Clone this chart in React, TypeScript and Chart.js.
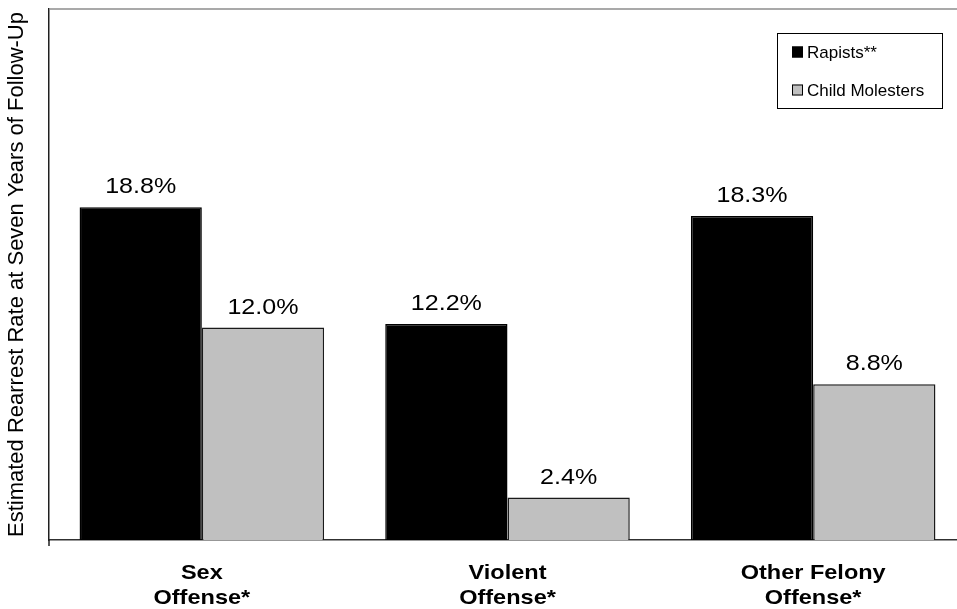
import React, { useEffect, useRef } from "react";
import { Chart, registerables } from "chart.js";

Chart.register(...registerables);

const categories: string[][] = [
  ["Sex", "Offense*"],
  ["Violent", "Offense*"],
  ["Other Felony", "Offense*"],
];
const rapists: number[] = [18.8, 12.2, 18.3];
const childMolesters: number[] = [12.0, 2.4, 8.8];
const seriesNames: string[] = ["Rapists**", "Child Molesters"];
const seriesColors: string[] = ["#000000", "#C0C0C0"];
const yTitle = "Estimated Rearrest Rate at Seven Years of Follow-Up";
const FONT = "'Liberation Sans', Arial, Helvetica, sans-serif";

function stretchedText(ctx: CanvasRenderingContext2D, text: string, x: number, y: number, sx: number) {
  ctx.save();
  ctx.translate(x, y);
  ctx.scale(sx, 1);
  ctx.fillText(text, 0, 0);
  ctx.restore();
}

const decorPlugin = {
  id: "decor",
  afterDatasetsDraw(chart: any) {
    const ctx = chart.ctx as CanvasRenderingContext2D;
    const area = chart.chartArea;
    ctx.save();
    // top frame line
    ctx.strokeStyle = "#8c8c8c";
    ctx.lineWidth = 1.5;
    ctx.beginPath();
    ctx.moveTo(area.left, area.top);
    ctx.lineTo(chart.width, area.top);
    ctx.stroke();
    // small tick below y axis
    ctx.strokeStyle = "#202020";
    ctx.beginPath();
    ctx.moveTo(area.left, area.bottom);
    ctx.lineTo(area.left, area.bottom + 6);
    ctx.stroke();
    // value labels
    ctx.fillStyle = "#000";
    ctx.font = `22px ${FONT}`;
    ctx.textAlign = "center";
    ctx.textBaseline = "alphabetic";
    chart.data.datasets.forEach((ds: any, di: number) => {
      const meta = chart.getDatasetMeta(di);
      meta.data.forEach((bar: any, i: number) => {
        stretchedText(ctx, ds.data[i].toFixed(1) + "%", bar.x, bar.y - 14, 1.14);
      });
    });
    // category labels
    const xs = chart.scales.x;
    ctx.font = `bold 21px ${FONT}`;
    ctx.textBaseline = "middle";
    (chart.data.labels as string[][]).forEach((lines, i) => {
      const px = xs.getPixelForTick(i);
      lines.forEach((ln, k) => {
        stretchedText(ctx, ln, px, area.bottom + 33 + k * 25, 1.12);
      });
    });
    // legend box
    const lx = 777, ly = 33, lw = 165, lh = 75;
    ctx.fillStyle = "#fff";
    ctx.fillRect(lx, ly, lw, lh);
    ctx.strokeStyle = "#000";
    ctx.lineWidth = 1;
    ctx.strokeRect(lx + 0.5, ly + 0.5, lw, lh);
    ctx.font = `17px ${FONT}`;
    ctx.textAlign = "left";
    ctx.textBaseline = "middle";
    const rows = [52, 90];
    seriesNames.forEach((name, k) => {
      const cy = rows[k];
      ctx.fillStyle = seriesColors[k];
      ctx.fillRect(792, cy - 5.5, 11, 11);
      ctx.strokeStyle = "#000";
      ctx.lineWidth = 1;
      ctx.strokeRect(792.5, cy - 5, 10, 10);
      ctx.fillStyle = "#000";
      ctx.fillText(name, 807, cy + 1);
    });
    ctx.restore();
  },
};

export default function App() {
  const ref = useRef<HTMLCanvasElement | null>(null);
  useEffect(() => {
    document.body.style.margin = "0";
    document.body.style.overflow = "hidden";
    const canvas = ref.current!;
    const chart = new Chart(canvas, {
      type: "bar",
      data: {
        labels: categories,
        datasets: [
          {
            label: seriesNames[0],
            data: rapists,
            backgroundColor: seriesColors[0],
            borderColor: "#000",
            borderWidth: 1.5,
          },
          {
            label: seriesNames[1],
            data: childMolesters,
            backgroundColor: seriesColors[1],
            borderColor: "#1a1a1a",
            borderWidth: 1.5,
          },
        ],
      },
      options: {
        responsive: false,
        animation: false,
        layout: { padding: { top: 9, left: 0, right: 0, bottom: 0 } },
        datasets: { bar: { categoryPercentage: 0.8, barPercentage: 1.0 } },
        plugins: { legend: { display: false }, tooltip: { enabled: false } },
        scales: {
          x: {
            grid: { display: false },
            border: { display: true, color: "#303030", width: 1.5 },
            ticks: { display: false },
            afterFit(scale: any) {
              scale.height = 609 - 540;
            },
          },
          y: {
            min: 0,
            max: 30,
            grid: { display: false },
            border: { display: true, color: "#202020", width: 1.5 },
            ticks: { display: false },
            title: {
              display: true,
              text: yTitle,
              color: "#000",
              font: { family: FONT, size: 22 },
              padding: { top: 4, bottom: 0 },
            },
            afterFit(scale: any) {
              scale.width = 49;
            },
          },
        },
      },
      plugins: [decorPlugin],
    });
    return () => chart.destroy();
  }, []);
  return (
    <div style={{ width: 957, height: 609, overflow: "hidden", background: "#fff" }}>
      <canvas ref={ref} width={966} height={609} style={{ width: 966, height: 609, display: "block" }} />
    </div>
  );
}
